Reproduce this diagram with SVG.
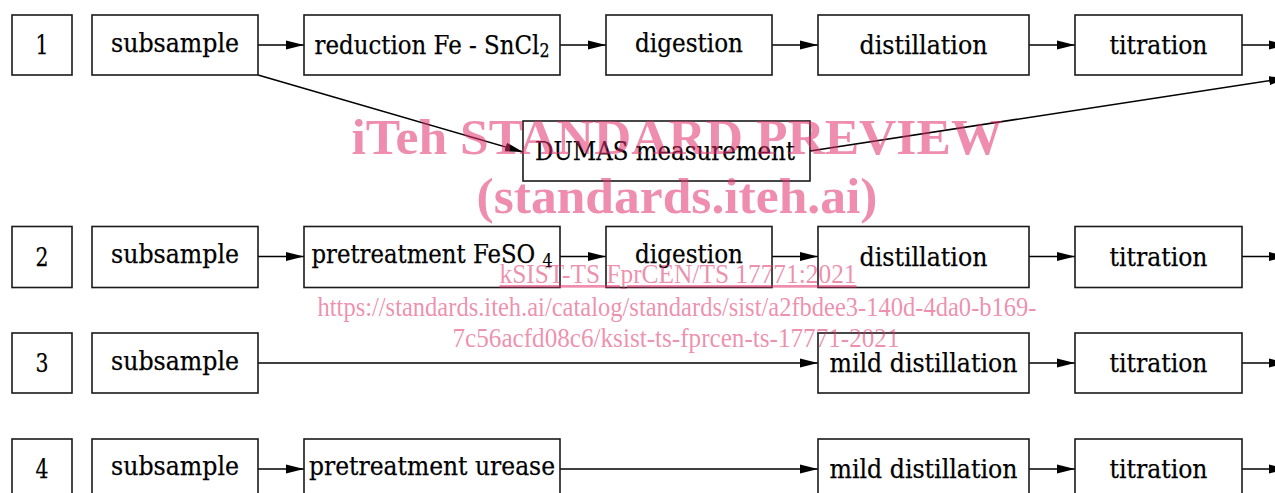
<svg xmlns="http://www.w3.org/2000/svg" width="1275" height="493" viewBox="0 0 1275 493">
<defs>
<marker id="ah" markerWidth="18" markerHeight="10" refX="18" refY="5" orient="auto" markerUnits="userSpaceOnUse">
<path d="M0,0.5 L18,5 L0,9.5 Z" fill="#000"/>
</marker>
<style>
.b{fill:#fff;stroke:#1a1a1a;stroke-width:1.6}
.t{font-family:"DejaVu Serif","Liberation Serif",serif;font-size:26px;fill:#000;text-anchor:middle;stroke:#000;stroke-width:0.25}
.c{fill:none;stroke:#000;stroke-width:1.6;marker-end:url(#ah)}
.w{font-family:"Liberation Serif",serif;fill:#e0306a;fill-opacity:0.55;text-anchor:middle}
</style>
</defs>
<rect width="1275" height="493" fill="#fff"/>
<g id="connectors">
<line class="c" x1="258" y1="45" x2="304" y2="45"/>
<line class="c" x1="560" y1="45" x2="606" y2="45"/>
<line class="c" x1="772" y1="45" x2="818" y2="45"/>
<line class="c" x1="1029" y1="45" x2="1075" y2="45"/>
<line class="c" x1="1242" y1="45" x2="1287" y2="45"/>
<line class="c" x1="258" y1="75" x2="523" y2="152"/>
<line class="c" x1="810" y1="151" x2="1287" y2="78"/>
<line class="c" x1="258" y1="256.5" x2="304" y2="256.5"/>
<line class="c" x1="560" y1="256.5" x2="606" y2="256.5"/>
<line class="c" x1="772" y1="256.5" x2="818" y2="256.5"/>
<line class="c" x1="1029" y1="256.5" x2="1075" y2="256.5"/>
<line class="c" x1="1242" y1="256.5" x2="1287" y2="256.5"/>
<line class="c" x1="258" y1="363" x2="818" y2="363"/>
<line class="c" x1="1029" y1="363" x2="1075" y2="363"/>
<line class="c" x1="1242" y1="363" x2="1287" y2="363"/>
<line class="c" x1="258" y1="469" x2="304" y2="469"/>
<line class="c" x1="560" y1="469" x2="818" y2="469"/>
<line class="c" x1="1029" y1="469" x2="1075" y2="469"/>
<line class="c" x1="1242" y1="469" x2="1287" y2="469"/>
</g>
<g id="n1"><rect class="b" x="12" y="15" width="60" height="60"/><text class="t" x="42" y="54" textLength="13" lengthAdjust="spacingAndGlyphs">1</text></g>
<g id="n1-sub"><rect class="b" x="92" y="15" width="166" height="60"/><text class="t" x="175" y="52" textLength="128" lengthAdjust="spacingAndGlyphs">subsample</text></g>
<g id="n1-red"><rect class="b" x="304" y="15" width="256" height="60"/><text class="t" x="432" y="54" textLength="235" lengthAdjust="spacingAndGlyphs">reduction Fe - SnCl<tspan font-size="18" dy="3">2</tspan></text></g>
<g id="n1-dig"><rect class="b" x="606" y="15" width="166" height="60"/><text class="t" x="689" y="52" textLength="108" lengthAdjust="spacingAndGlyphs">digestion</text></g>
<g id="n1-dis"><rect class="b" x="818" y="15" width="211" height="60"/><text class="t" x="923.5" y="53.5" textLength="128" lengthAdjust="spacingAndGlyphs">distillation</text></g>
<g id="n1-tit"><rect class="b" x="1075" y="15" width="167" height="60"/><text class="t" x="1158.5" y="53.5" textLength="98" lengthAdjust="spacingAndGlyphs">titration</text></g>
<g id="n1-dumas"><rect class="b" x="523" y="121" width="287" height="60"/><text class="t" x="665" y="160" textLength="260" lengthAdjust="spacingAndGlyphs">DUMAS measurement</text></g>
<g id="n2"><rect class="b" x="12" y="226.5" width="60" height="61"/><text class="t" x="42" y="265.5" textLength="13" lengthAdjust="spacingAndGlyphs">2</text></g>
<g id="n2-sub"><rect class="b" x="92" y="226.5" width="166" height="61"/><text class="t" x="175" y="263" textLength="128" lengthAdjust="spacingAndGlyphs">subsample</text></g>
<g id="n2-pre"><rect class="b" x="304" y="226.5" width="256" height="61"/><text class="t" x="432" y="263" textLength="241" lengthAdjust="spacingAndGlyphs">pretreatment FeSO <tspan font-size="18" dy="4">4</tspan></text></g>
<g id="n2-dig"><rect class="b" x="606" y="226.5" width="166" height="61"/><text class="t" x="689" y="263" textLength="108" lengthAdjust="spacingAndGlyphs">digestion</text></g>
<g id="n2-dis"><rect class="b" x="818" y="226.5" width="211" height="61"/><text class="t" x="923.5" y="265.5" textLength="128" lengthAdjust="spacingAndGlyphs">distillation</text></g>
<g id="n2-tit"><rect class="b" x="1075" y="226.5" width="167" height="61"/><text class="t" x="1158.5" y="265.5" textLength="98" lengthAdjust="spacingAndGlyphs">titration</text></g>
<g id="n3"><rect class="b" x="12" y="333" width="60" height="60"/><text class="t" x="42" y="371.5" textLength="13" lengthAdjust="spacingAndGlyphs">3</text></g>
<g id="n3-sub"><rect class="b" x="92" y="333" width="166" height="60"/><text class="t" x="175" y="370" textLength="128" lengthAdjust="spacingAndGlyphs">subsample</text></g>
<g id="n3-mild"><rect class="b" x="818" y="333" width="211" height="60"/><text class="t" x="923.5" y="372" textLength="188" lengthAdjust="spacingAndGlyphs">mild distillation</text></g>
<g id="n3-tit"><rect class="b" x="1075" y="333" width="167" height="60"/><text class="t" x="1158.5" y="372" textLength="98" lengthAdjust="spacingAndGlyphs">titration</text></g>
<g id="n4"><rect class="b" x="12" y="439" width="60" height="61"/><text class="t" x="42" y="477.5" textLength="13" lengthAdjust="spacingAndGlyphs">4</text></g>
<g id="n4-sub"><rect class="b" x="92" y="439" width="166" height="61"/><text class="t" x="175" y="475" textLength="128" lengthAdjust="spacingAndGlyphs">subsample</text></g>
<g id="n4-pre"><rect class="b" x="304" y="439" width="256" height="61"/><text class="t" x="432" y="475" textLength="246" lengthAdjust="spacingAndGlyphs">pretreatment urease</text></g>
<g id="n4-mild"><rect class="b" x="818" y="439" width="211" height="61"/><text class="t" x="923.5" y="477.5" textLength="188" lengthAdjust="spacingAndGlyphs">mild distillation</text></g>
<g id="n4-tit"><rect class="b" x="1075" y="439" width="167" height="61"/><text class="t" x="1158.5" y="477.5" textLength="98" lengthAdjust="spacingAndGlyphs">titration</text></g>
<g id="watermark">
<text class="w" x="677" y="154" font-size="50" font-weight="bold" textLength="651" lengthAdjust="spacingAndGlyphs">iTeh STANDARD PREVIEW</text>
<text class="w" x="677" y="213" font-size="50" font-weight="bold" textLength="401" lengthAdjust="spacingAndGlyphs">(standards.iteh.ai)</text>
<text class="w" x="678" y="283" font-size="27" text-decoration="underline" textLength="357" lengthAdjust="spacingAndGlyphs">kSIST-TS FprCEN/TS 17771:2021</text>
<text class="w" x="677" y="316" font-size="27" textLength="719" lengthAdjust="spacingAndGlyphs">https://standards.iteh.ai/catalog/standards/sist/a2fbdee3-140d-4da0-b169-</text>
<text class="w" x="676" y="347" font-size="27" textLength="447" lengthAdjust="spacingAndGlyphs">7c56acfd08c6/ksist-ts-fprcen-ts-17771-2021</text>
</g>
</svg>
